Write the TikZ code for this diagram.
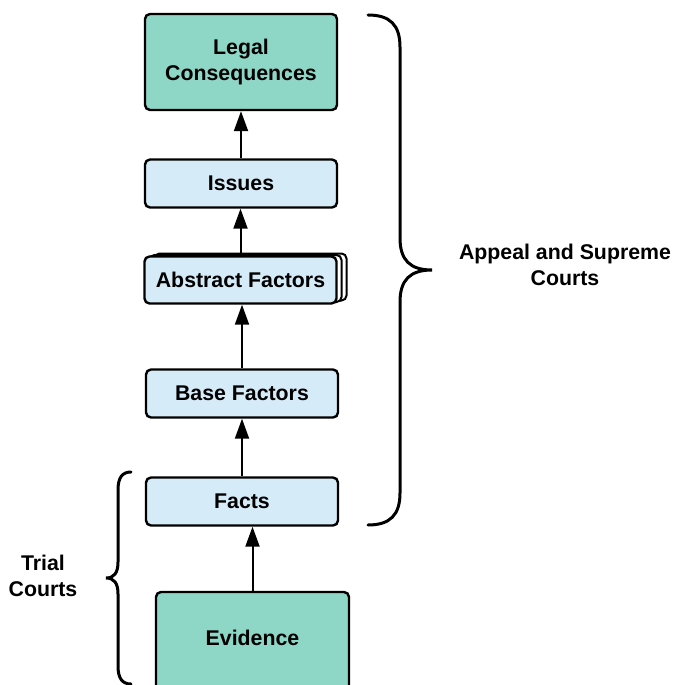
\documentclass[tikz,border=0pt]{standalone}
\usepackage{fontspec}
\setmainfont{Liberation Sans}
\usetikzlibrary{arrows.meta,shadows}
\definecolor{tealfill}{HTML}{8ED6C6}
\definecolor{bluefill}{HTML}{D6EBF8}
\tikzset{
  box/.style={draw=black, line width=2.4pt, rounded corners=5pt,
    minimum width=192pt, minimum height=48pt, align=center,
    font=\fontsize{21.3}{26}\selectfont\bfseries, inner sep=0pt},
  stage/.style={box, fill=bluefill},
  source/.style={box, fill=tealfill},
  link/.style={line width=2pt, -{Triangle[length=20pt,width=14pt]}},
  brace/.style={line width=3pt, line cap=round},
  courts/.style={align=center, font=\fontsize{21.3}{26}\selectfont\bfseries}
}
\begin{document}
\begin{tikzpicture}[x=1pt, y=-1pt]
\useasboundingbox (0,0) rectangle (673,685);
\clip (0,0) rectangle (673,685);

% processing chain
\node[source, minimum height=96pt] (legal) at (241,62) {Legal\\Consequences};
\node[stage] (issues) at (241,183.5) {Issues};
\node[stage, minimum height=47pt,
      double copy shadow={shadow xshift=5pt, shadow yshift=1.5pt, fill=white, draw=black, line width=2pt}]
      (abstract) at (240.5,280) {Abstract Factors};
\node[stage] (base) at (242,393.5) {Base Factors};
\node[stage] (facts) at (242,501.5) {Facts};
\node[source, minimum width=193pt, minimum height=108pt, text depth=16pt] (evidence) at (252.5,646) {Evidence};

% connectors
\draw[link] (evidence.north) -- (evidence.north |- facts.south);
\draw[link] (facts.north) -- (base.south);
\draw[link] (base.north) -- (base.north |- abstract.south);
\draw[link] (abstract.north) -- (abstract.north |- issues.south);
\draw[link] (issues.north) -- (issues.north |- legal.south);

% appeal and supreme courts brace
\draw[brace] (368,15) .. controls (390,15) and (400,25) .. (400,47) -- (400,238)
  .. controls (400,260) and (410,270) .. (432,270)
  .. controls (410,270) and (400,280) .. (400,302) -- (400,493)
  .. controls (400,515) and (390,525) .. (368,525);
\node[courts] (appeal) at (565,265) {Appeal and Supreme\\Courts};

% trial courts brace
\draw[brace] (131,472) .. controls (122,472) and (118,478) .. (118,490) -- (118,562)
  .. controls (118,573) and (114,578) .. (106,578)
  .. controls (114,578) and (118,583) .. (118,594) -- (118,666)
  .. controls (118,678) and (122,684) .. (131,684);
\node[courts] (trial) at (43,576) {Trial\\Courts};
\end{tikzpicture}
\end{document}
